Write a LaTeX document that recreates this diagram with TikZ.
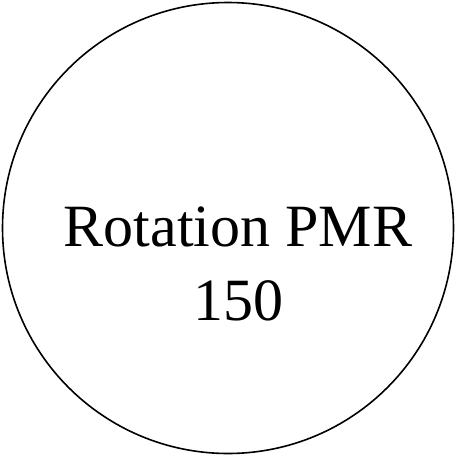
\documentclass[tikz,border=0pt]{standalone}
\usepackage{fontspec}
\setmainfont{Liberation Serif}
\begin{document}
\begin{tikzpicture}[x=1pt,y=-1pt,
  lbl/.style={font=\fontsize{60}{72}\selectfont, inner sep=0pt, anchor=base}]
\useasboundingbox (0,0) rectangle (456,456);
\node[circle, draw, line width=1.6pt, minimum size=451pt, inner sep=0pt] (c) at (228,228) {};
\node[lbl] (t1) at (238,246) {Rotation PMR};
\node[lbl] (t2) at (238,320) {150};
\end{tikzpicture}
\end{document}
